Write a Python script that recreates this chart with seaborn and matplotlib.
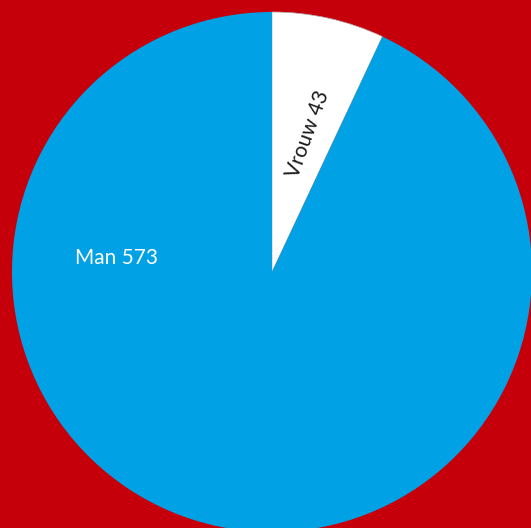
import matplotlib
matplotlib.use("Agg")
import matplotlib.pyplot as plt
import seaborn as sns

# Data
labels = ["Vrouw", "Man"]
counts = [43, 573]
colors = ["#FFFFFF", "#00A2E5"]
bg = "#C6000B"

sns.set_style("white")
plt.rcParams['font.family'] = ['Lato', 'DejaVu Sans']

fig = plt.figure(figsize=(5.31, 5.28), dpi=100, facecolor=bg)
ax = fig.add_axes([0, 0, 1, 1])
ax.set_facecolor(bg)

wedges, _ = ax.pie(counts, colors=colors, startangle=90, counterclock=False,
                   radius=1.0, wedgeprops=dict(linewidth=0))
wedges[0].set_edgecolor("#b0b0b0")
wedges[0].set_linewidth(0.5)

# label text
ax.text(0.14, 0.53, f"{labels[0]} {counts[0]}", rotation=70, ha="center", va="center",
        fontsize=15, color="#1a1a1a")
ax.text(-0.6, 0.055, f"{labels[1]} {counts[1]}", ha="center", va="center",
        fontsize=15, color="white")

ax.set_xlim(-272 / 260, 259 / 260)
ax.set_ylim(-256 / 260, 272 / 260)
ax.set_aspect("auto")
ax.axis("off")

fig.savefig("out.png", dpi=100, facecolor=bg)
